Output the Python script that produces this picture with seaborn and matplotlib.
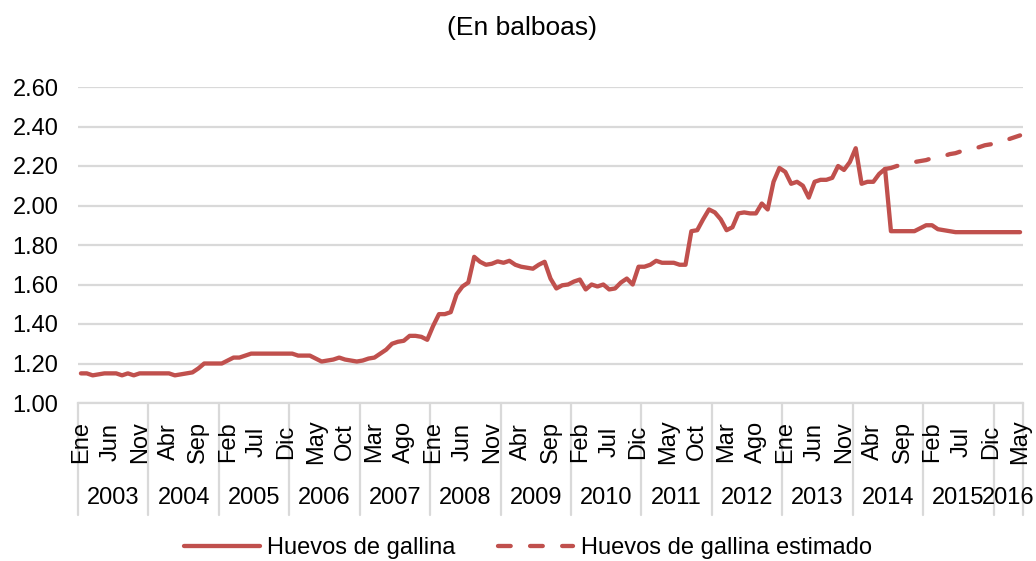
import numpy as np
import pandas as pd
import matplotlib
matplotlib.use("Agg")
import matplotlib.pyplot as plt
import matplotlib.transforms as mtransforms
from matplotlib.lines import Line2D
import seaborn as sns

# ---- data (monthly, Jan 2003 .. May 2016) ----
years = ["2003", "2004", "2005", "2006", "2007", "2008", "2009",
         "2010", "2011", "2012", "2013", "2014", "2015", "2016"]
months_es = ["Ene", "Feb", "Mar", "Abr", "May", "Jun",
             "Jul", "Ago", "Sep", "Oct", "Nov", "Dic"]

huevos = [
    # 2003
    1.15, 1.15, 1.14, 1.145, 1.15, 1.15, 1.15, 1.14, 1.15, 1.14, 1.15, 1.15,
    # 2004
    1.15, 1.15, 1.15, 1.15, 1.14, 1.145, 1.15, 1.155, 1.175, 1.20, 1.20, 1.20,
    # 2005
    1.20, 1.215, 1.23, 1.23, 1.24, 1.25, 1.25, 1.25, 1.25, 1.25, 1.25, 1.25,
    # 2006
    1.25, 1.24, 1.24, 1.24, 1.225, 1.21, 1.215, 1.22, 1.23, 1.22, 1.215, 1.21,
    # 2007
    1.215, 1.225, 1.23, 1.25, 1.27, 1.30, 1.31, 1.315, 1.34, 1.34, 1.335, 1.32,
    # 2008
    1.39, 1.45, 1.45, 1.46, 1.55, 1.59, 1.61, 1.74, 1.715, 1.70, 1.705, 1.717,
    # 2009
    1.71, 1.72, 1.70, 1.69, 1.685, 1.68, 1.70, 1.715, 1.63, 1.58, 1.596, 1.60,
    # 2010
    1.615, 1.625, 1.575, 1.60, 1.59, 1.60, 1.575, 1.58, 1.61, 1.63, 1.60, 1.69,
    # 2011
    1.69, 1.70, 1.72, 1.71, 1.71, 1.71, 1.70, 1.70, 1.87, 1.875, 1.93, 1.98,
    # 2012
    1.965, 1.93, 1.875, 1.89, 1.96, 1.965, 1.96, 1.96, 2.01, 1.98, 2.12, 2.19,
    # 2013
    2.17, 2.11, 2.12, 2.10, 2.04, 2.12, 2.13, 2.13, 2.14, 2.20, 2.18, 2.22,
    # 2014
    2.29, 2.11, 2.12, 2.12, 2.16, 2.185, 1.87, 1.87, 1.87, 1.87, 1.87, 1.885,
    # 2015
    1.90, 1.90, 1.88, 1.875, 1.87, 1.865, 1.865, 1.865, 1.865, 1.865, 1.865, 1.865,
    # 2016
    1.865, 1.865, 1.865, 1.865, 1.865,
]

# estimated series: Jun 2014 .. May 2016
estimado_start = 137
estimado = [2.185, 2.19, 2.20, 2.205, 2.21, 2.22, 2.225, 2.23, 2.24, 2.245,
            2.25, 2.26, 2.265, 2.275, 2.28, 2.29, 2.295, 2.305, 2.31, 2.32,
            2.325, 2.335, 2.345, 2.355]

n = len(huevos)
idx = np.arange(n)
df = pd.DataFrame({"t": idx, "v": huevos})
df_est = pd.DataFrame({"t": np.arange(estimado_start, estimado_start + len(estimado)),
                       "v": estimado})

# ---- style ----
sns.set_theme(style="white")
plt.rcParams["font.family"] = ["Liberation Sans", "DejaVu Sans"]
plt.rcParams["text.color"] = "black"
plt.rcParams["xtick.color"] = "black"
plt.rcParams["ytick.color"] = "black"
RED = "#C0504D"
GRID = "#d9d9d9"
FS = 17
LW = 3.1
DASH = (2.95, 4.5)

fig = plt.figure(figsize=(10.36, 5.61), dpi=100)
ax = fig.add_axes([78 / 1036, 1 - 403 / 561, (1023 - 78) / 1036, (403 - 87) / 561])

sns.lineplot(data=df, x="t", y="v", ax=ax, color=RED, lw=LW, legend=False)
sns.lineplot(data=df_est, x="t", y="v", ax=ax, color=RED, lw=LW, legend=False)
est_line = ax.lines[-1]
est_line.set_dashes(DASH)
est_line.set_dash_capstyle("round")
ax.lines[0].set_solid_capstyle("round")
ax.lines[0].set_solid_joinstyle("round")

ax.set_xlim(-0.5, n - 0.5)
ax.set_ylim(1.0, 2.6)
yt = np.round(np.arange(1.0, 2.61, 0.2), 2)
ax.set_yticks(yt)
ax.set_yticklabels([f"{v:.2f}" for v in yt], fontsize=FS, color="black")
ax.yaxis.grid(True, color=GRID, lw=1.6)
ax.set_axisbelow(True)
ax.tick_params(axis="y", length=0, pad=14)
ax.set_xlabel("")
ax.set_ylabel("")
for s in ["top", "right", "left"]:
    ax.spines[s].set_visible(False)
ax.spines["bottom"].set_color(GRID)
ax.spines["bottom"].set_linewidth(1.6)

# month tick labels every 5 months
tick_idx = list(range(0, n, 5))
ax.set_xticks(tick_idx)
ax.set_xticklabels([months_es[i % 12] for i in tick_idx], rotation=90,
                   fontsize=FS, color="black")
for lab in ax.get_xticklabels():
    lab.set_va("center")
ax.tick_params(axis="x", length=0, pad=28)

# year labels and separators
trans = mtransforms.blended_transform_factory(ax.transData, ax.transAxes)
ax_h = 403 - 87
for k, yr in enumerate(years):
    start = 12 * k - 0.5
    end = min(12 * (k + 1), n) - 0.5
    ax.text((start + end) / 2, -95 / ax_h, yr, transform=trans,
            ha="center", va="center", fontsize=FS, color="black")
bounds = [12 * k - 0.5 for k in range(len(years))] + [n - 0.5]
for b in bounds:
    ax.add_line(Line2D([b, b], [0, -112 / ax_h], transform=trans,
                       color=GRID, lw=1.6, clip_on=False, zorder=0.2))

# title
fig.text(522 / 1036, 1 - 28 / 561, "(En balboas)", ha="center", va="center",
         fontsize=19, color="black")

# legend
h1 = Line2D([], [], color=RED, lw=LW)
h2 = Line2D([], [], color=RED, lw=LW, dashes=DASH, dash_capstyle="round")
leg = fig.legend([h1, h2], ["Huevos de gallina", "Huevos de gallina estimado"],
                 loc="center", bbox_to_anchor=(528 / 1036, 1 - 548 / 561), ncol=2,
                 frameon=False, fontsize=FS, handlelength=3.2, handletextpad=0.3,
                 columnspacing=1.8)
for t in leg.get_texts():
    t.set_color("black")

fig.savefig("out.png", dpi=100)
